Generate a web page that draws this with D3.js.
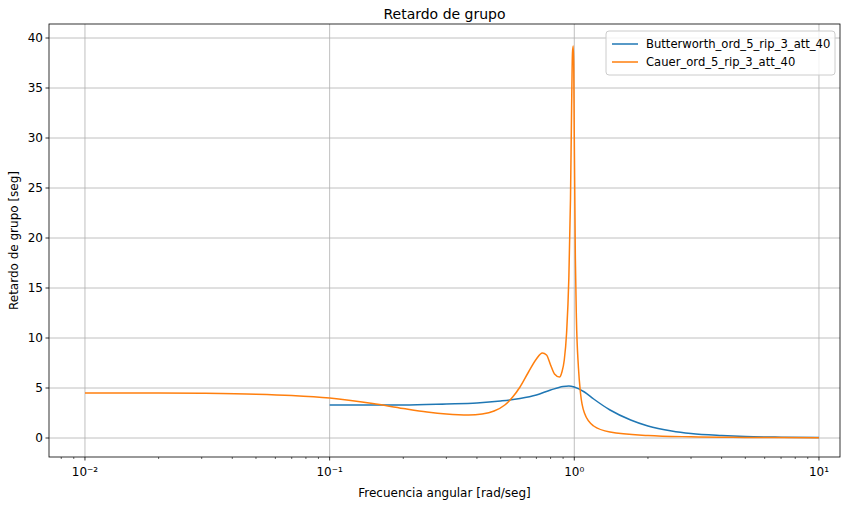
<!DOCTYPE html>
<html><head><meta charset="utf-8">
<script src="https://cdn.jsdelivr.net/npm/d3@7"></script>
<style>body{margin:0;background:#fff;font-family:"DejaVu Sans",sans-serif}</style>
</head><body>
<svg id="chart" width="862" height="507"></svg>
<script>
// Data
const butterW = [0.1,0.2,0.3,0.4,0.5,0.6,0.7,0.8,0.9,0.95,1.0,1.1,1.2,1.4,1.7,2,2.5,3,4,5,7,10];
const butterT = [3.3,3.3,3.4,3.5,3.7,3.95,4.3,4.8,5.15,5.2,5.1,4.6,3.9,2.8,1.8,1.2,0.7,0.45,0.25,0.15,0.08,0.04];
const cauerW = [0.01,0.02,0.03,0.05,0.07,0.1,0.15,0.2,0.25,0.3,0.37,0.42,0.47,0.52,0.56,0.6,0.65,0.7,0.74,0.77,0.8,0.83,0.87,0.89,0.91,0.93,0.95,0.965,0.975,0.983,0.99,0.995,1.0,1.01,1.02,1.04,1.06,1.1,1.2,1.4,2,3,5,10];
const cauerT = [4.5,4.5,4.47,4.38,4.25,4.0,3.45,2.95,2.6,2.4,2.3,2.4,2.7,3.3,4.1,5.1,6.6,7.9,8.5,8.3,7.3,6.4,6.1,6.6,7.8,10.5,16,24,33,38.5,39.2,37,30,18,12,7,4.5,2.5,1.2,0.6,0.25,0.12,0.06,0.02];
const seriesNames = ["Butterworth_ord_5_rip_3_att_40","Cauer_ord_5_rip_3_att_40"];
const colors = ["#1f77b4","#ff7f0e"];
const yTicks = [0,5,10,15,20,25,30,35,40];
const xTicks = [0.01,0.1,1,10];

const svg = d3.select("#chart");
const m = {l:49,r:840,t:24,b:457};
const x = d3.scaleLog().domain([Math.pow(10,-2.147),Math.pow(10,1.086)]).range([m.l,m.r]);
const y = d3.scaleLinear().domain([-1.9,41.4]).range([m.b,m.t]);

// grid
svg.append("g").selectAll("line").data(xTicks).join("line")
  .attr("x1",d=>x(d)).attr("x2",d=>x(d)).attr("y1",m.t).attr("y2",m.b)
  .attr("stroke","#b0b0b0").attr("stroke-width",0.8);
svg.append("g").selectAll("line").data(yTicks).join("line")
  .attr("x1",m.l).attr("x2",m.r).attr("y1",d=>y(d)).attr("y2",d=>y(d))
  .attr("stroke","#b0b0b0").attr("stroke-width",0.8);

// minor x ticks
const minor = [];
for (let e=-3;e<=1;e++) for (let k=2;k<=9;k++){const v=k*Math.pow(10,e); if(x(v)>=m.l&&x(v)<=m.r) minor.push(v);}
svg.append("g").selectAll("line").data(minor).join("line")
  .attr("x1",d=>x(d)).attr("x2",d=>x(d)).attr("y1",m.b).attr("y2",m.b+2)
  .attr("stroke","#000").attr("stroke-width",0.6);

// major ticks + labels
const sup = {"-2":"⁻²","-1":"⁻¹","0":"⁰","1":"¹"};
const xt = svg.append("g").selectAll("g").data(xTicks).join("g");
xt.append("line").attr("x1",d=>x(d)).attr("x2",d=>x(d)).attr("y1",m.b).attr("y2",m.b+3.5).attr("stroke","#000").attr("stroke-width",0.8);
xt.append("text").attr("x",d=>x(d)).attr("y",m.b+19).attr("text-anchor","middle").attr("font-size",12)
  .text(d=>"10"+sup[String(Math.round(Math.log10(d)))]);
const yt = svg.append("g").selectAll("g").data(yTicks).join("g");
yt.append("line").attr("x1",m.l-3.5).attr("x2",m.l).attr("y1",d=>y(d)).attr("y2",d=>y(d)).attr("stroke","#000").attr("stroke-width",0.8);
yt.append("text").attr("x",m.l-6).attr("y",d=>y(d)+4).attr("text-anchor","end").attr("font-size",12).text(d=>d);

// lines
const line = d3.line().curve(d3.curveMonotoneX);
const series = [[butterW,butterT],[cauerW,cauerT]];
series.forEach((s,i)=>{
  const pts = s[0].map((w,j)=>[x(w),y(s[1][j])]);
  svg.append("path").attr("d",line(pts)).attr("fill","none").attr("stroke",colors[i]).attr("stroke-width",1.5);
});

// frame
svg.append("rect").attr("x",m.l).attr("y",m.t).attr("width",m.r-m.l).attr("height",m.b-m.t)
  .attr("fill","none").attr("stroke","#000").attr("stroke-width",0.8);

// titles
svg.append("text").attr("x",(m.l+m.r)/2).attr("y",19).attr("text-anchor","middle").attr("font-size",14).text("Retardo de grupo");
svg.append("text").attr("x",(m.l+m.r)/2).attr("y",497).attr("text-anchor","middle").attr("font-size",12).text("Frecuencia angular [rad/seg]");
svg.append("text").attr("transform",`translate(18,${(m.t+m.b)/2}) rotate(-90)`).attr("text-anchor","middle").attr("font-size",12).text("Retardo de grupo [seg]");

// legend
const lg = svg.append("g").attr("transform","translate(606,31)");
lg.append("rect").attr("width",229).attr("height",44).attr("rx",3).attr("fill","#fff").attr("fill-opacity",0.8).attr("stroke","#ccc");
seriesNames.forEach((n,i)=>{
  lg.append("line").attr("x1",6).attr("x2",32).attr("y1",13+i*18).attr("y2",13+i*18).attr("stroke",colors[i]).attr("stroke-width",1.5);
  lg.append("text").attr("x",40).attr("y",17+i*18).attr("font-size",11.6).text(n);
});
</script>
</body></html>
